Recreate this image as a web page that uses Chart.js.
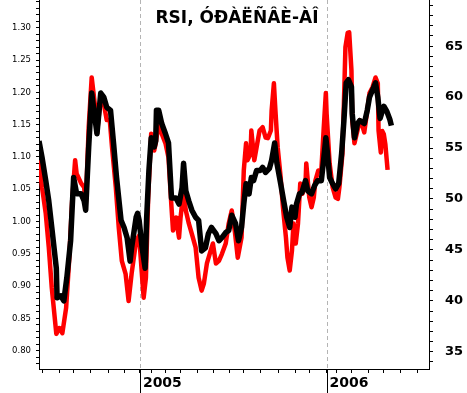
<!DOCTYPE html>
<html>
<head>
<meta charset="utf-8">
<script src="https://cdn.jsdelivr.net/npm/chart.js@4/dist/chart.umd.min.js"></script>
<style>
  html, body { margin: 0; padding: 0; background: #fff; }
  canvas { display: block; }
</style>
</head>
<body>
<canvas id="chart" width="467" height="393"></canvas>
<script>
// title and x axis (trading sessions from start, ticks at month starts)
const chartTitle = 'RSI, ÓÐÀËÑÂÈ-ÀÎ';
const monthTicks = [5, 27, 46, 69, 92, 113, 134, 149, 168, 188, 211, 232, 253, 272, 294, 318, 341, 359, 382, 395, 415, 438, 458, 480, 503];
const tickLabels = ['', '', '', '', '', '', '2005', '', '', '', '', '', '', '', '', '', '', '', '2006', '', '', '', '', '', ''];

// black line - RSI (right axis)
const rsiDays = [0, 4, 9, 13, 17, 23, 24, 29, 33, 37, 42, 46, 50, 56, 60, 62, 66, 70, 73, 77, 82, 86, 90, 95, 99, 103, 109, 113, 117, 121, 123, 129, 131, 133, 137, 141, 143, 146, 149, 153, 155, 156, 159, 163, 168, 172, 176, 182, 186, 190, 192, 195, 199, 203, 208, 212, 216, 221, 225, 229, 235, 239, 243, 248, 252, 256, 261, 265, 269, 272, 275, 279, 282, 285, 289, 294, 297, 301, 306, 309, 313, 316, 321, 325, 329, 333, 336, 340, 342, 346, 349, 354, 357, 362, 366, 370, 375, 378, 381, 383, 386, 390, 394, 398, 402, 405, 408, 411, 415, 416, 419, 423, 426, 430, 432, 436, 439, 443, 447, 450, 453, 458, 462, 466, 468];
const rsiValues = [55.7, 54.1, 51.8, 49.8, 47.2, 43.2, 40.3, 40.5, 40.0, 42.3, 45.9, 52.1, 50.5, 50.5, 49.8, 48.9, 55.1, 60.4, 58.7, 56.4, 60.4, 60.0, 59.0, 58.7, 55.5, 52.1, 47.9, 47.2, 46.2, 43.9, 45.2, 48.2, 48.6, 47.9, 45.2, 43.2, 48.2, 52.8, 56.0, 55.1, 55.7, 58.7, 58.7, 57.4, 56.4, 55.5, 50.1, 50.1, 49.5, 51.1, 53.5, 50.8, 49.8, 48.9, 48.2, 47.9, 44.9, 45.2, 46.6, 47.2, 46.6, 45.9, 46.2, 46.7, 46.9, 48.4, 47.6, 45.9, 47.2, 49.5, 51.5, 50.5, 52.1, 51.8, 52.8, 52.8, 53.1, 52.6, 53.0, 53.8, 55.5, 53.5, 51.5, 49.8, 48.2, 47.2, 49.2, 48.2, 49.5, 50.5, 50.6, 51.8, 50.8, 50.5, 51.3, 51.8, 51.8, 53.8, 56.0, 54.6, 52.1, 51.5, 51.0, 51.5, 54.5, 57.7, 61.4, 61.7, 61.0, 58.4, 56.0, 57.4, 57.7, 57.5, 57.4, 58.7, 60.0, 60.7, 61.4, 60.0, 57.9, 59.1, 58.6, 57.8, 57.2];

// red line (left axis)
const ratioDays = [0, 4, 9, 13, 17, 23, 27, 31, 36, 40, 44, 48, 50, 56, 60, 62, 66, 70, 74, 77, 82, 86, 90, 94, 97, 102, 106, 110, 115, 119, 123, 129, 133, 137, 139, 142, 145, 149, 153, 155, 159, 163, 168, 172, 176, 178, 182, 183, 186, 188, 192, 195, 199, 203, 208, 212, 216, 219, 223, 228, 231, 235, 239, 243, 248, 252, 256, 260, 264, 269, 272, 275, 277, 281, 282, 286, 289, 293, 297, 301, 304, 308, 309, 312, 314, 317, 321, 324, 328, 330, 333, 336, 338, 341, 344, 347, 350, 354, 355, 359, 362, 365, 367, 371, 375, 378, 381, 382, 386, 390, 394, 397, 399, 403, 405, 407, 410, 412, 415, 416, 419, 423, 426, 430, 432, 436, 439, 443, 447, 450, 451, 454, 456, 458, 460, 463];
const ratioValues = [1.095, 1.053, 1.012, 0.960, 0.897, 0.826, 0.835, 0.827, 0.866, 0.939, 1.032, 1.095, 1.074, 1.059, 1.053, 1.022, 1.146, 1.223, 1.183, 1.136, 1.192, 1.183, 1.157, 1.157, 1.115, 1.053, 0.990, 0.939, 0.919, 0.877, 0.919, 0.970, 0.978, 0.913, 0.882, 0.913, 1.037, 1.136, 1.110, 1.121, 1.152, 1.136, 1.121, 1.099, 1.022, 0.986, 1.006, 0.997, 0.975, 1.006, 1.048, 1.017, 0.997, 0.981, 0.960, 0.913, 0.893, 0.904, 0.935, 0.955, 0.966, 0.935, 0.939, 0.950, 0.966, 0.997, 1.017, 0.986, 0.944, 0.975, 1.079, 1.121, 1.095, 1.105, 1.141, 1.095, 1.115, 1.141, 1.146, 1.130, 1.129, 1.141, 1.172, 1.214, 1.172, 1.115, 1.068, 1.022, 0.975, 0.944, 0.924, 0.955, 0.997, 0.966, 0.997, 1.059, 1.043, 1.059, 1.090, 1.037, 1.022, 1.037, 1.063, 1.079, 1.079, 1.141, 1.199, 1.167, 1.090, 1.053, 1.037, 1.035, 1.053, 1.105, 1.183, 1.270, 1.292, 1.293, 1.234, 1.157, 1.121, 1.141, 1.157, 1.146, 1.138, 1.172, 1.199, 1.208, 1.223, 1.214, 1.141, 1.107, 1.140, 1.135, 1.120, 1.080];

const toPoints = (xs, ys) => xs.map((x, i) => ({ x: x, y: ys[i] }));

// dashed year lines + long year ticks
const yearMarks = {
  id: 'yearMarks',
  beforeDatasetsDraw(chart) {
    const { ctx, chartArea, scales } = chart;
    ctx.save();
    ctx.strokeStyle = '#b4b4b4';
    ctx.lineWidth = 1;
    ctx.setLineDash([4, 3]);
    monthTicks.forEach((t, i) => {
      if (!tickLabels[i]) return;
      const x = Math.round(scales.x.getPixelForValue(t)) + 0.5;
      ctx.beginPath();
      ctx.moveTo(x, chartArea.top);
      ctx.lineTo(x, chartArea.bottom);
      ctx.stroke();
    });
    ctx.restore();
  },
  afterDraw(chart) {
    const { ctx, chartArea, scales } = chart;
    ctx.save();
    ctx.strokeStyle = '#000';
    ctx.lineWidth = 1;
    monthTicks.forEach((t, i) => {
      if (!tickLabels[i]) return;
      const x = Math.round(scales.x.getPixelForValue(t)) + 0.5;
      ctx.beginPath();
      ctx.moveTo(x, chartArea.bottom);
      ctx.lineTo(x, chart.height);
      ctx.stroke();
    });
    // title inside the plot
    ctx.fillStyle = '#000';
    ctx.font = 'bold 17px "DejaVu Sans"';
    ctx.textAlign = 'center';
    ctx.textBaseline = 'alphabetic';
    ctx.fillText(chartTitle, (chartArea.left + chartArea.right) / 2 + 3, 23);
    ctx.restore();
  }
};

new Chart(document.getElementById('chart'), {
  type: 'line',
  data: {
    datasets: [{
      data: toPoints(rsiDays, rsiValues),
      yAxisID: 'y1',
      borderColor: '#000',
      borderWidth: 5.5,
      borderJoinStyle: 'round',
      pointRadius: 0,
      tension: 0
    }, {
      data: toPoints(ratioDays, ratioValues),
      yAxisID: 'y',
      borderColor: '#ff0000',
      borderWidth: 4.5,
      borderJoinStyle: 'round',
      pointRadius: 0,
      tension: 0
    }]
  },
  options: {
    responsive: false,
    animation: false,
    devicePixelRatio: 1,
    layout: { padding: 0 },
    plugins: {
      legend: { display: false },
      tooltip: { enabled: false }
    },
    scales: {
      x: {
        type: 'linear',
        min: 0,
        max: 518,
        afterBuildTicks: s => { s.ticks = monthTicks.map(v => ({ value: v })); },
        afterFit: s => { s.height = 24; s.paddingLeft = 0; s.paddingRight = 0; },
        grid: { drawOnChartArea: false, color: '#000', tickLength: 4 },
        border: { color: '#000', width: 1 },
        ticks: {
          autoSkip: false,
          maxRotation: 0,
          align: 'start',
          labelOffset: 3,
          padding: 2,
          color: '#000',
          font: { family: 'DejaVu Sans', size: 14, weight: 'bold' },
          callback: (v, i) => tickLabels[i]
        }
      },
      y: {
        position: 'left',
        min: 0.7716,
        max: 1.343,
        afterBuildTicks: s => {
          const t = [];
          for (let k = 78; k <= 134; k++) t.push({ value: k / 100 });
          s.ticks = t;
        },
        afterFit: s => { s.width = 39; s.paddingTop = 0; s.paddingBottom = 0; },
        grid: { drawOnChartArea: false, color: '#000', tickLength: 3 },
        border: { color: '#000', width: 1 },
        ticks: {
          autoSkip: false,
          padding: 5,
          color: '#000',
          font: { family: 'DejaVu Sans', size: 8.5 },
          callback: v => (Math.round(v * 100) % 5 === 0 ? v.toFixed(2) : '')
        }
      },
      y1: {
        position: 'right',
        min: 33.31,
        max: 69.53,
        afterBuildTicks: s => {
          const t = [];
          for (let k = 34; k <= 69; k++) t.push({ value: k });
          s.ticks = t;
        },
        afterFit: s => { s.width = 38; s.paddingTop = 0; s.paddingBottom = 0; },
        grid: { drawOnChartArea: false, color: '#000', tickLength: 4 },
        border: { color: '#000', width: 1 },
        ticks: {
          autoSkip: false,
          padding: 12,
          color: '#000',
          font: { family: 'DejaVu Sans', size: 13, weight: 'bold' },
          callback: v => (v % 5 === 0 && v >= 35 && v <= 65 ? String(v) : '')
        }
      }
    }
  },
  plugins: [yearMarks]
});
</script>
</body>
</html>
